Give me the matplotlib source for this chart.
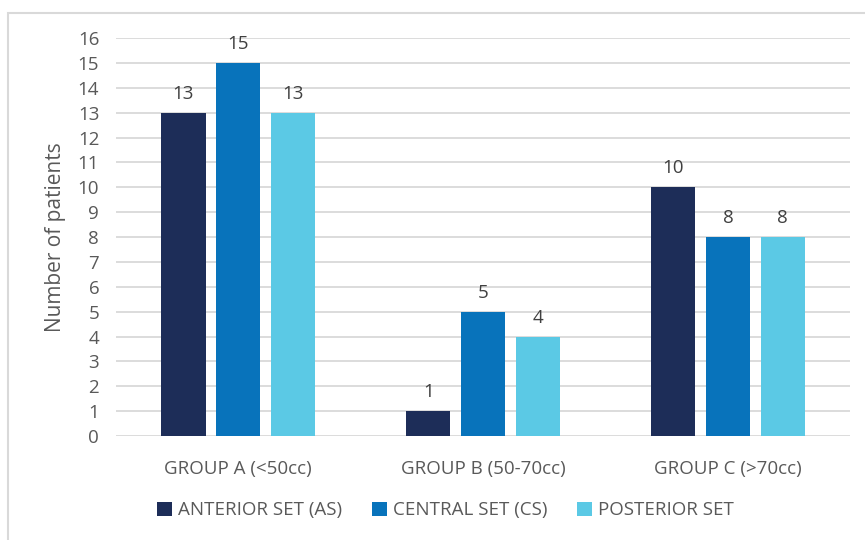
import matplotlib
matplotlib.use("Agg")
import matplotlib.pyplot as plt
from matplotlib.patches import Rectangle
import numpy as np

# données
groups = ["GROUP A (<50cc)", "GROUP B (50-70cc)", "GROUP C (>70cc)"]
series = ["ANTERIOR SET (AS)", "CENTRAL SET (CS)", "POSTERIOR SET"]
anterior = [13, 1, 10]
central = [15, 5, 8]
posterior = [13, 4, 8]
colors = ["#1d2d58", "#0873bb", "#5bc9e5"]

plt.rcParams['font.family'] = ['Open Sans', 'DejaVu Sans']

fig = plt.figure(figsize=(8.65, 5.4), dpi=100)
ax = fig.add_axes([0.134, 0.1926, 0.849, 0.737])

# cadre gris autour du graphique
fig.patches.append(Rectangle((8/865, -0.1), 1.2, 1 - 13/540 + 0.1, transform=fig.transFigure,
                             fill=False, edgecolor="#d9d9d9", linewidth=1.5))

x = np.arange(len(groups))
width = 0.18
step = 0.224
for i, (vals, name) in enumerate(zip([anterior, central, posterior], series)):
    pos = x + (i - 1) * step
    bars = ax.bar(pos, vals, width, color=colors[i], label=name, zorder=3)
    for b, v in zip(bars, vals):
        ax.text(b.get_x() + b.get_width() / 2, v + 0.4, str(v), ha='center', va='bottom',
                fontsize=13.5, color="#404040", zorder=4)

ax.set_xlim(-0.5, 2.5)
ax.set_ylim(0, 16)
ax.set_yticks(range(0, 17))
ax.set_xticks(x)
ax.set_xticklabels(groups)
ax.grid(axis='y', color='#d9d9d9', linewidth=1.3, zorder=0)
for s in ax.spines.values():
    s.set_visible(False)
ax.tick_params(length=0, labelsize=13.5, labelcolor="#595959")
ax.tick_params(axis='x', pad=17)
ax.tick_params(axis='y', pad=12)
ax.set_ylabel("Number of patients", fontsize=15, color="#595959")
ax.yaxis.set_label_coords(-0.068, 0.5)

fig.legend(loc='center', bbox_to_anchor=(0.515, 0.055), ncol=3, frameon=False,
           fontsize=13.5, labelcolor="#595959", handlelength=0.8, handleheight=0.8,
           handletextpad=0.3, columnspacing=1.6)

fig.savefig("out.png", dpi=100)
